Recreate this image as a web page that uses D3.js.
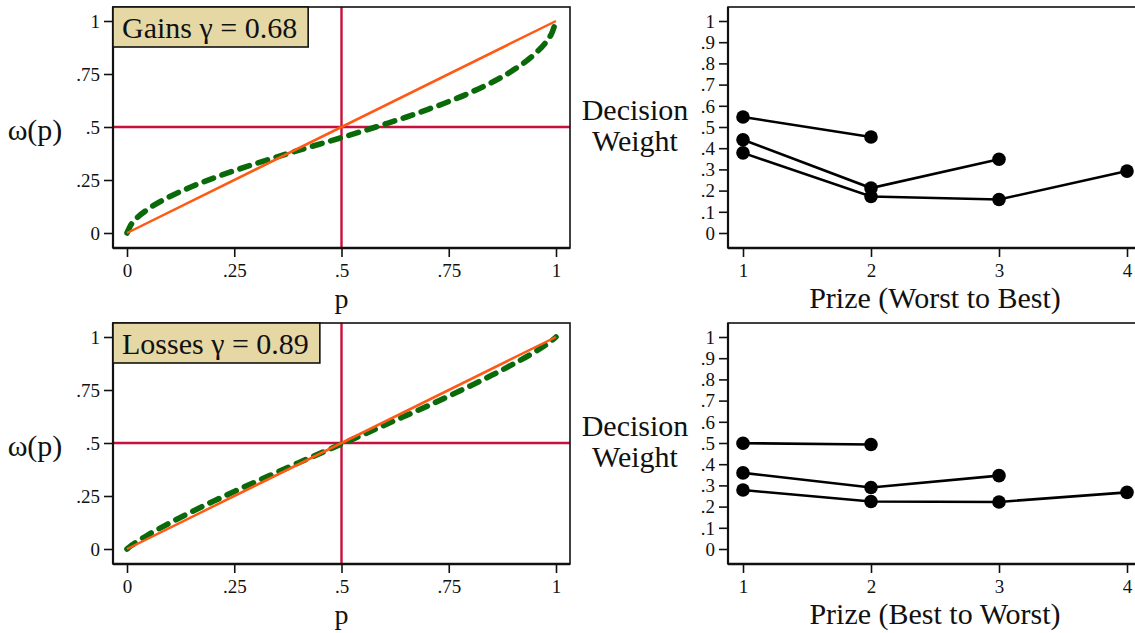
<!DOCTYPE html>
<html>
<head>
<meta charset="utf-8">
<script src="https://cdn.jsdelivr.net/npm/d3@7"></script>
<style>
html, body { margin: 0; padding: 0; background: #fff; }
svg { display: block; }
text { font-family: "Liberation Serif", "Times New Roman", serif; fill: #111; }
</style>
</head>
<body>
<svg id="chart" width="1135" height="633"></svg>
<script>
// ---------- data ----------
const pGrid = [0, 0.01, 0.02, 0.05, 0.1, 0.15, 0.2, 0.25, 0.3, 0.35, 0.4, 0.45, 0.5,
               0.55, 0.6, 0.65, 0.7, 0.75, 0.8, 0.85, 0.9, 0.95, 0.98, 0.99, 1];
const gainsCurve = [0, 0.041, 0.065, 0.114, 0.172, 0.218, 0.258, 0.294, 0.327, 0.359, 0.390, 0.420, 0.450,
                    0.481, 0.513, 0.546, 0.582, 0.620, 0.662, 0.710, 0.768, 0.844, 0.910, 0.942, 1];
const lossesCurve = [0, 0.016, 0.030, 0.068, 0.123, 0.175, 0.224, 0.271, 0.317, 0.362, 0.407, 0.451, 0.495,
                     0.539, 0.584, 0.629, 0.674, 0.721, 0.769, 0.819, 0.872, 0.929, 0.968, 0.983, 1];
const diagonal = [0, 1];

const panelLabels = ["Gains \u03B3 = 0.68", "Losses \u03B3 = 0.89"];
const prizeTitles = ["Prize (Worst to Best)", "Prize (Best to Worst)"];

const prizes = [1, 2, 3, 4];
const gains2 = [0.547, 0.453];
const gains3 = [0.440, 0.212, 0.348];
const gains4 = [0.378, 0.172, 0.158, 0.292];
const losses2 = [0.499, 0.493];
const losses3 = [0.359, 0.290, 0.346];
const losses4 = [0.278, 0.224, 0.222, 0.267];

const pTicks = [0, 0.25, 0.5, 0.75, 1];
const pTickLabels = ["0", ".25", ".5", ".75", "1"];
const dwTicks = [0, 0.1, 0.2, 0.3, 0.4, 0.5, 0.6, 0.7, 0.8, 0.9, 1];
const dwTickLabels = ["0", ".1", ".2", ".3", ".4", ".5", ".6", ".7", ".8", ".9", "1"];
const prizeTickLabels = ["1", "2", "3", "4"];

// ---------- drawing ----------
const svg = d3.select("#chart");
svg.append("rect").attr("width", 1135).attr("height", 633).attr("fill", "#fff");

const RED = "#c8103c", ORANGE = "#ff5a14", GREEN = "#0a6a0a", KHAKI = "#e6d8a5";
const tickFont = 19, bigFont = 30;

function styleAxis(a) {
  a.select(".domain").remove();
  a.selectAll(".tick line").attr("stroke", "#111").attr("stroke-width", 1.6);
  a.selectAll(".tick text").attr("font-size", tickFont)
    .attr("font-family", '"Liberation Serif", "Times New Roman", serif').attr("fill", "#111");
}

function drawBox(g, x0, x1, y0, y1) {
  g.append("rect").attr("x", x0).attr("y", y0).attr("width", x1 - x0).attr("height", y1 - y0)
    .attr("fill", "none").attr("stroke", "#111").attr("stroke-width", 1.6);
  g.append("line").attr("x1", x0).attr("x2", x0).attr("y1", y0).attr("y2", y1)
    .attr("stroke", "#111").attr("stroke-width", 2.2);
  g.append("line").attr("x1", x0).attr("x2", x1).attr("y1", y1).attr("y2", y1)
    .attr("stroke", "#111").attr("stroke-width", 2.6);
}

function leftPanel(row, curve) {
  const off = row * 316;
  const boxTop = 7 + off, boxBottom = 248 + off, boxLeft = 113, boxRight = 570;
  const x = d3.scaleLinear().domain([0, 1]).range([127, 556]);
  const y = d3.scaleLinear().domain([0, 1]).range([233 + off, 21 + off]);
  const g = svg.append("g");

  const cid = "clipL" + row;
  svg.append("clipPath").attr("id", cid).append("rect")
    .attr("x", boxLeft).attr("y", boxTop).attr("width", boxRight - boxLeft).attr("height", boxBottom - boxTop);
  const pg = g.append("g").attr("clip-path", `url(#${cid})`);

  pg.append("line").attr("x1", boxLeft).attr("x2", boxRight).attr("y1", y(0.5)).attr("y2", y(0.5))
    .attr("stroke", RED).attr("stroke-width", 2.4);
  pg.append("line").attr("x1", x(0.5)).attr("x2", x(0.5)).attr("y1", boxTop).attr("y2", boxBottom)
    .attr("stroke", RED).attr("stroke-width", 2.4);

  const line = d3.line().x(d => x(d[0])).y(d => y(d[1])).curve(d3.curveMonotoneX);
  pg.append("path").datum(pGrid.map((p, i) => [p, curve[i]])).attr("d", line)
    .attr("fill", "none").attr("stroke", GREEN).attr("stroke-width", 5.6)
    .attr("stroke-linecap", "round").attr("stroke-dasharray", "10,9");
  pg.append("path").datum(diagonal.map(p => [p, p])).attr("d", line)
    .attr("fill", "none").attr("stroke", ORANGE).attr("stroke-width", 2.5);

  drawBox(g, boxLeft, boxRight, boxTop, boxBottom);

  const ax = g.append("g").attr("transform", `translate(0,${boxBottom})`)
    .call(d3.axisBottom(x).tickValues(pTicks).tickSize(9).tickPadding(7)
      .tickFormat((d, i) => pTickLabels[i]));
  styleAxis(ax);
  const ay = g.append("g").attr("transform", `translate(${boxLeft},0)`)
    .call(d3.axisLeft(y).tickValues(pTicks).tickSize(9).tickPadding(4)
      .tickFormat((d, i) => pTickLabels[i]));
  styleAxis(ay);
  ay.selectAll(".tick text").attr("dy", "0.33em");

  g.append("text").attr("x", x(0.5)).attr("y", 308 + off).attr("text-anchor", "middle")
    .attr("font-size", 28).text("p");
  g.append("text").attr("x", 35).attr("y", 140 + off).attr("text-anchor", "middle")
    .attr("font-size", bigFont).text("\u03C9(p)");

  const lbl = g.append("g");
  const t = lbl.append("text").attr("x", 122).attr("y", 38 + off).attr("font-size", bigFont)
    .text(panelLabels[row]);
  const w = t.node().getComputedTextLength();
  lbl.insert("rect", "text").attr("x", boxLeft).attr("y", boxTop)
    .attr("width", w + 20).attr("height", 40)
    .attr("fill", KHAKI).attr("stroke", "#111").attr("stroke-width", 1.6);
}

function rightPanel(row, seriesList) {
  const off = row * 316;
  const boxTop = 7 + off, boxBottom = 248 + off, boxLeft = 728, boxRight = 1142;
  const x = d3.scaleLinear().domain([1, 4]).range([743, 1127]);
  const y = d3.scaleLinear().domain([0, 1]).range([233 + off, 21 + off]);
  const g = svg.append("g");

  drawBox(g, boxLeft, boxRight, boxTop, boxBottom);

  const line = d3.line().x(d => x(d[0])).y(d => y(d[1]));
  seriesList.forEach(vals => {
    const pts = vals.map((v, i) => [prizes[i], v]);
    g.append("path").datum(pts).attr("d", line).attr("fill", "none")
      .attr("stroke", "#000").attr("stroke-width", 2.6);
    g.selectAll(null).data(pts).enter().append("circle")
      .attr("cx", d => x(d[0])).attr("cy", d => y(d[1])).attr("r", 6.8).attr("fill", "#000");
  });

  const ax = g.append("g").attr("transform", `translate(0,${boxBottom})`)
    .call(d3.axisBottom(x).tickValues(prizes).tickSize(9).tickPadding(7)
      .tickFormat((d, i) => prizeTickLabels[i]));
  styleAxis(ax);
  const ay = g.append("g").attr("transform", `translate(${boxLeft},0)`)
    .call(d3.axisLeft(y).tickValues(dwTicks).tickSize(9).tickPadding(4)
      .tickFormat((d, i) => dwTickLabels[i]));
  styleAxis(ay);
  ay.selectAll(".tick text").attr("dy", "0.33em");

  g.append("text").attr("x", 935).attr("y", 308 + off).attr("text-anchor", "middle")
    .attr("font-size", bigFont).text(prizeTitles[row]);
  g.append("text").attr("x", 635).attr("y", 120 + off).attr("text-anchor", "middle")
    .attr("font-size", bigFont).text("Decision");
  g.append("text").attr("x", 635).attr("y", 151 + off).attr("text-anchor", "middle")
    .attr("font-size", bigFont).text("Weight");
}

leftPanel(0, gainsCurve);
leftPanel(1, lossesCurve);
rightPanel(0, [gains2, gains3, gains4]);
rightPanel(1, [losses2, losses3, losses4]);
</script>
</body>
</html>
